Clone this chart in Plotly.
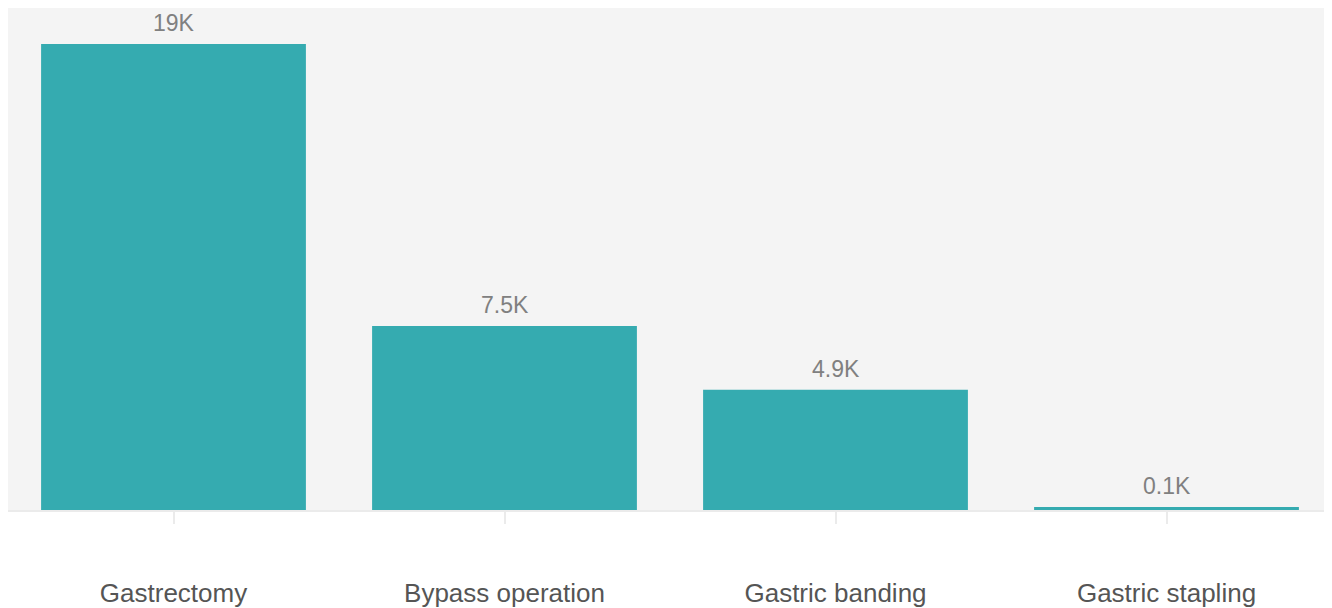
import plotly.graph_objects as go

categories = ["Gastrectomy", "Bypass operation", "Gastric banding", "Gastric stapling"]
values = [19000, 7500, 4900, 120]


def fmt(v):
    s = f"{v / 1000:.1f}"
    if s.endswith(".0"):
        s = s[:-2]
    return s + "K"


labels = [fmt(v) for v in values]

fig = go.Figure()
fig.add_trace(go.Bar(
    x=categories, y=values,
    marker=dict(color="#35abb0", line=dict(width=0)),
    hoverinfo="x+y",
))

for c, v, t in zip(categories, values, labels):
    fig.add_annotation(
        x=c, y=v, text=t, showarrow=False,
        yanchor="bottom", yshift=6,
        font=dict(family="Liberation Sans, Arial, sans-serif", size=23, color="#808080"),
    )

fig.update_layout(
    width=1324, height=600,
    margin=dict(l=0, r=0, t=0, b=98),
    paper_bgcolor="white",
    plot_bgcolor="#f4f4f4",
    bargap=0.2,
    showlegend=False,
    font=dict(family="Liberation Sans, Arial, sans-serif"),
)
fig.update_xaxes(
    showgrid=False,
    showline=True, linecolor="#ebebeb", linewidth=2,
    ticks="outside", ticklen=12, tickwidth=2, tickcolor="#ebebeb",
    ticklabelstandoff=47,
    tickfont=dict(size=26, color="#555555"),
)
fig.update_yaxes(
    range=[0, 20470],
    showgrid=False, zeroline=False, showticklabels=False,
)

fig.write_html("out.html")
